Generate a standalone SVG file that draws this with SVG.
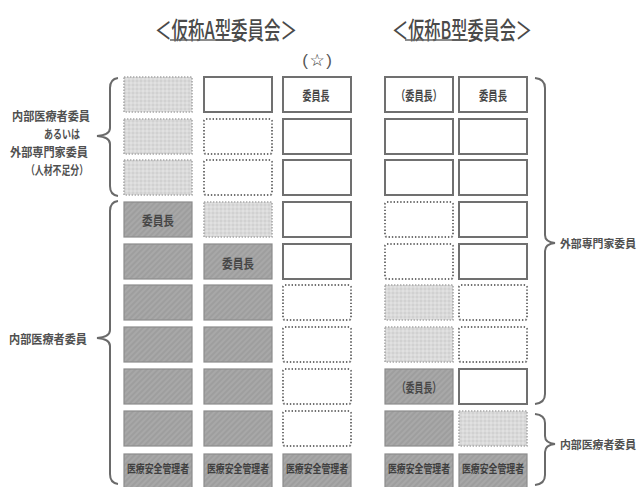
<svg xmlns="http://www.w3.org/2000/svg" width="640" height="487" viewBox="0 0 640 487">
<defs>
<pattern id="hatch" width="4" height="4" patternUnits="userSpaceOnUse" patternTransform="rotate(45)"><rect width="4" height="4" fill="#a8a8a8"/><line x1="1" y1="0" x2="1" y2="4" stroke="#9a9a9a" stroke-width="1.4"/></pattern>
<pattern id="stip" width="4" height="4" patternUnits="userSpaceOnUse"><rect width="4" height="4" fill="#dadada"/><circle cx="1" cy="1" r="0.8" fill="#c6c6c6"/><circle cx="3" cy="3" r="0.8" fill="#ebebeb"/></pattern>
<style>
text{font-family:"Noto Sans CJK JP","Noto Sans CJK SC",sans-serif;fill:#4a4a4a;dominant-baseline:central;text-anchor:middle}
.title{font-size:24px;fill:#4a4a4a;font-weight:500}
.lbl{font-size:12px;font-weight:bold;fill:#505050;text-anchor:start}
.lr{font-size:11px;font-weight:bold;fill:#505050;text-anchor:start}
.bt{font-size:13px;font-weight:bold;fill:#474747}
.bs{font-size:11.5px;font-weight:bold;fill:#3f3f3f}
.star{font-family:"DejaVu Sans",sans-serif;font-size:17px;font-weight:bold;fill:#333}
.par{font-family:"Liberation Sans",sans-serif;font-size:17px;fill:#555}
.solid{fill:#fff;stroke:#707070;stroke-width:2}
.dot{fill:#fff;stroke:#707070;stroke-width:2;stroke-dasharray:1.4 1.9}
.light{fill:url(#stip);stroke:#a8a8a8;stroke-width:1.6;stroke-dasharray:1.4 1.6}
.dark{fill:url(#hatch);stroke:#8c8c8c;stroke-width:1.2}
.brace{fill:none;stroke:#6a6a6a;stroke-width:2}
.ul{stroke:#666;stroke-width:1.3}
</style>
</defs>
<rect width="640" height="487" fill="#fff"/>

<g id="titles">
<text class="title" x="226" y="28" textLength="142" lengthAdjust="spacingAndGlyphs">＜仮称A型委員会＞</text>
<line class="ul" x1="170" y1="40" x2="237" y2="40"/>
<text class="title" x="462" y="28" textLength="140" lengthAdjust="spacingAndGlyphs">＜仮称B型委員会＞</text>
<line class="ul" x1="405" y1="40" x2="468" y2="40"/>
<text class="par" x="305" y="60">(</text>
<text class="star" x="317" y="60">☆</text>
<text class="par" x="329" y="60">)</text>
</g>

<g id="labels">
<text class="lbl" x="12" y="115" textLength="78" lengthAdjust="spacingAndGlyphs">内部医療者委員</text>
<text class="lbl" x="44" y="133" textLength="36" lengthAdjust="spacingAndGlyphs">あるいは</text>
<text class="lbl" x="10" y="151" textLength="78" lengthAdjust="spacingAndGlyphs">外部専門家委員</text>
<text class="lbl" x="26" y="169" textLength="62" lengthAdjust="spacingAndGlyphs">（人材不足分）</text>
<text class="lbl" x="9" y="338" textLength="78" lengthAdjust="spacingAndGlyphs">内部医療者委員</text>
<text class="lr" x="560" y="243" textLength="76" lengthAdjust="spacingAndGlyphs">外部専門家委員</text>
<text class="lr" x="560" y="444" textLength="76" lengthAdjust="spacingAndGlyphs">内部医療者委員</text>
</g>

<g id="connectors">
<path class="brace" d="M118,78 Q110,79 110,88 L110,128 Q110,135 97,136 Q110,137 110,144 L110,186 Q110,195 118,196"/>
<path class="brace" d="M118,201 Q110,202 110,211 L110,330 Q110,337 97,338 Q110,339 110,346 L110,474 Q110,483 118,484"/>
<path class="brace" d="M535,78 Q545,79 545,88 L545,235 Q545,242 555,243 Q545,244 545,251 L545,394 Q545,403 535,404"/>
<path class="brace" d="M535,414 Q545,415 545,423 L545,436 Q545,443 555,444 Q545,445 545,452 L545,475 Q545,484 535,485"/>
</g>

<!-- Column A1 -->
<g id="a1r1"><rect class="light" x="124" y="77" width="68" height="35"/></g>
<g id="a1r2"><rect class="light" x="124" y="119" width="68" height="35"/></g>
<g id="a1r3"><rect class="light" x="124" y="160" width="68" height="35"/></g>
<g id="a1r4"><rect class="dark" x="124" y="202" width="68" height="35"/><text class="bt" x="158" y="219.5" textLength="32" lengthAdjust="spacingAndGlyphs">委員長</text></g>
<g id="a1r5"><rect class="dark" x="124" y="244" width="68" height="35"/></g>
<g id="a1r6"><rect class="dark" x="124" y="285" width="68" height="35"/></g>
<g id="a1r7"><rect class="dark" x="124" y="327" width="68" height="35"/></g>
<g id="a1r8"><rect class="dark" x="124" y="369" width="68" height="35"/></g>
<g id="a1r9"><rect class="dark" x="124" y="411" width="68" height="35"/></g>
<g id="a1r10"><rect class="dark" x="124" y="454" width="68" height="35"/><text class="bs" x="158" y="468" textLength="62" lengthAdjust="spacingAndGlyphs">医療安全管理者</text></g>

<!-- Column A2 -->
<g id="a2r1"><rect class="solid" x="204" y="77" width="68" height="35"/></g>
<g id="a2r2"><rect class="dot" x="204" y="119" width="68" height="35" rx="2"/></g>
<g id="a2r3"><rect class="dot" x="204" y="160" width="68" height="35" rx="2"/></g>
<g id="a2r4"><rect class="light" x="204" y="202" width="68" height="35"/></g>
<g id="a2r5"><rect class="dark" x="204" y="244" width="68" height="35"/><text class="bt" x="238" y="262" textLength="32" lengthAdjust="spacingAndGlyphs">委員長</text></g>
<g id="a2r6"><rect class="dark" x="204" y="285" width="68" height="35"/></g>
<g id="a2r7"><rect class="dark" x="204" y="327" width="68" height="35"/></g>
<g id="a2r8"><rect class="dark" x="204" y="369" width="68" height="35"/></g>
<g id="a2r9"><rect class="dark" x="204" y="411" width="68" height="35"/></g>
<g id="a2r10"><rect class="dark" x="204" y="454" width="68" height="35"/><text class="bs" x="238" y="468" textLength="62" lengthAdjust="spacingAndGlyphs">医療安全管理者</text></g>

<!-- Column A3 -->
<g id="a3r1"><rect class="solid" x="283" y="77" width="68" height="35"/><text class="bt" x="316" y="94.5" textLength="27" lengthAdjust="spacingAndGlyphs">委員長</text></g>
<g id="a3r2"><rect class="solid" x="283" y="119" width="68" height="35"/></g>
<g id="a3r3"><rect class="solid" x="283" y="160" width="68" height="35"/></g>
<g id="a3r4"><rect class="solid" x="283" y="202" width="68" height="35"/></g>
<g id="a3r5"><rect class="solid" x="283" y="244" width="68" height="35"/></g>
<g id="a3r6"><rect class="dot" x="283" y="285" width="68" height="35" rx="2"/></g>
<g id="a3r7"><rect class="dot" x="283" y="327" width="68" height="35" rx="2"/></g>
<g id="a3r8"><rect class="dot" x="283" y="369" width="68" height="35" rx="2"/></g>
<g id="a3r9"><rect class="dot" x="283" y="411" width="68" height="35" rx="2"/></g>
<g id="a3r10"><rect class="dark" x="283" y="454" width="68" height="35"/><text class="bs" x="317" y="468" textLength="62" lengthAdjust="spacingAndGlyphs">医療安全管理者</text></g>

<!-- Column B1 -->
<g id="b1r1"><rect class="solid" x="385" y="77" width="68" height="35"/><text class="bt" x="419" y="94.5" textLength="46" lengthAdjust="spacingAndGlyphs">（委員長）</text></g>
<g id="b1r2"><rect class="solid" x="385" y="119" width="68" height="35"/></g>
<g id="b1r3"><rect class="solid" x="385" y="160" width="68" height="35"/></g>
<g id="b1r4"><rect class="dot" x="385" y="202" width="68" height="35" rx="2"/></g>
<g id="b1r5"><rect class="dot" x="385" y="244" width="68" height="35" rx="2"/></g>
<g id="b1r6"><rect class="light" x="385" y="285" width="68" height="35"/></g>
<g id="b1r7"><rect class="light" x="385" y="327" width="68" height="35"/></g>
<g id="b1r8"><rect class="dark" x="385" y="369" width="68" height="35"/><text class="bt" x="419" y="386.5" textLength="44" lengthAdjust="spacingAndGlyphs">（委員長）</text></g>
<g id="b1r9"><rect class="dark" x="385" y="411" width="68" height="35"/></g>
<g id="b1r10"><rect class="dark" x="385" y="454" width="68" height="35"/><text class="bs" x="419" y="468" textLength="62" lengthAdjust="spacingAndGlyphs">医療安全管理者</text></g>

<!-- Column B2 -->
<g id="b2r1"><rect class="solid" x="459" y="77" width="68" height="35"/><text class="bt" x="493" y="94.5" textLength="28" lengthAdjust="spacingAndGlyphs">委員長</text></g>
<g id="b2r2"><rect class="solid" x="459" y="119" width="68" height="35"/></g>
<g id="b2r3"><rect class="solid" x="459" y="160" width="68" height="35"/></g>
<g id="b2r4"><rect class="solid" x="459" y="202" width="68" height="35"/></g>
<g id="b2r5"><rect class="solid" x="459" y="244" width="68" height="35"/></g>
<g id="b2r6"><rect class="dot" x="459" y="285" width="68" height="35" rx="2"/></g>
<g id="b2r7"><rect class="dot" x="459" y="327" width="68" height="35" rx="2"/></g>
<g id="b2r8"><rect class="solid" x="459" y="369" width="68" height="35"/></g>
<g id="b2r9"><rect class="light" x="459" y="411" width="68" height="35"/></g>
<g id="b2r10"><rect class="dark" x="459" y="454" width="68" height="35"/><text class="bs" x="493" y="468" textLength="62" lengthAdjust="spacingAndGlyphs">医療安全管理者</text></g>
</svg>
